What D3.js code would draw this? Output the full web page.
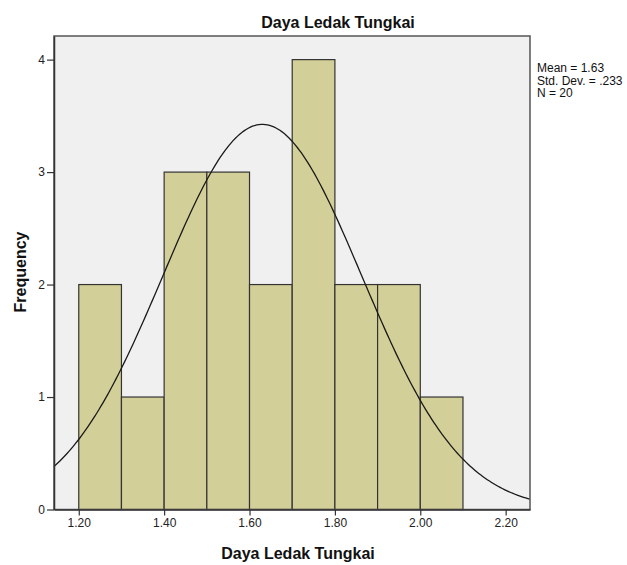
<!DOCTYPE html>
<html>
<head>
<meta charset="utf-8">
<script src="https://cdn.jsdelivr.net/npm/d3@7"></script>
<style>
  body { margin: 0; background: #fff; }
  svg { font-family: "Liberation Sans", Arial, sans-serif; }
</style>
</head>
<body>
<div id="chart"></div>
<script>
// Histogram bins (lower edge, upper edge) and counts
const binStarts = [1.2, 1.3, 1.4, 1.5, 1.6, 1.7, 1.8, 1.9, 2.0];
const binWidth = 0.1;
const counts = [2, 1, 3, 3, 2, 4, 2, 2, 1];

// Summary stats shown in the legend
const meanVal = 1.63;
const sdVal = 0.233;
const nVal = 20;

const xTicks = [1.2, 1.4, 1.6, 1.8, 2.0, 2.2];
const yTicks = [0, 1, 2, 3, 4];

// Plot frame
const margin = {top: 36, right: 97, bottom: 55.5, left: 54};
const W = 627, H = 565;
const width = W - margin.left - margin.right;
const height = H - margin.top - margin.bottom;

const colors = {
    bg: "#f0f0f0",
    bar: "#d3cf98",
    barStroke: "#333",
    frame: "#555",
    curve: "#1a1a1a"
};

const svg = d3.select("#chart")
    .append("svg")
    .attr("width", W)
    .attr("height", H);

const g = svg.append("g")
    .attr("transform", `translate(${margin.left},${margin.top})`);

const x = d3.scaleLinear()
    .domain([1.142, 2.257])
    .range([0, width]);

const y = d3.scaleLinear()
    .domain([0, 4.21])
    .range([height, 0]);

// Background
g.append("rect")
    .attr("width", width)
    .attr("height", height)
    .attr("fill", colors.bg);

g.append("clipPath")
    .attr("id", "clip")
    .append("rect")
    .attr("width", width)
    .attr("height", height);

// Bars
const bins = binStarts.map((s, i) => ({x0: s, x1: s + binWidth, n: counts[i]}));
g.selectAll(".bar")
    .data(bins)
    .enter()
    .append("rect")
    .attr("class", "bar")
    .attr("x", d => x(d.x0))
    .attr("y", d => y(d.n))
    .attr("width", d => x(d.x1) - x(d.x0))
    .attr("height", d => y(0) - y(d.n))
    .attr("fill", colors.bar)
    .attr("stroke", colors.barStroke)
    .attr("stroke-width", 1.2);

// Normal curve scaled to counts
const curveX = d3.range(1.142, 2.2575, 0.005);
const normal = v => nVal * binWidth / (sdVal * Math.sqrt(2 * Math.PI)) *
    Math.exp(-0.5 * Math.pow((v - meanVal) / sdVal, 2));

g.append("path")
    .datum(curveX)
    .attr("clip-path", "url(#clip)")
    .attr("fill", "none")
    .attr("stroke", colors.curve)
    .attr("stroke-width", 1.3)
    .attr("d", d3.line().x(d => x(d)).y(d => y(normal(d))));

// Frame
g.append("rect")
    .attr("width", width)
    .attr("height", height)
    .attr("fill", "none")
    .attr("stroke", colors.frame)
    .attr("stroke-width", 1.5);

// Axes
const xAxis = g.append("g")
    .attr("transform", `translate(0,${height})`)
    .call(d3.axisBottom(x).tickValues(xTicks).tickFormat(d3.format(".2f")).tickSize(6).tickSizeOuter(0).tickPadding(3));

const yAxis = g.append("g")
    .call(d3.axisLeft(y).tickValues(yTicks).tickFormat(d3.format("d")).tickSize(7).tickSizeOuter(0).tickPadding(2));

[xAxis, yAxis].forEach(a => {
    a.select(".domain").attr("stroke", "#333").attr("stroke-width", 1.5);
    a.selectAll(".tick line").attr("stroke", "#333").attr("stroke-width", 1.2);
    a.selectAll(".tick text")
        .attr("fill", "#222")
        .style("font-size", "12px")
        .style("font-family", "'Liberation Sans', Arial, sans-serif");
});

// Title
svg.append("text")
    .attr("x", 338)
    .attr("y", 27.5)
    .attr("text-anchor", "middle")
    .style("font-size", "16px")
    .style("font-weight", "bold")
    .attr("fill", "#111")
    .text("Daya Ledak Tungkai");

// Axis labels
svg.append("text")
    .attr("x", 298)
    .attr("y", 559)
    .attr("text-anchor", "middle")
    .style("font-size", "16px")
    .style("font-weight", "bold")
    .attr("fill", "#111")
    .text("Daya Ledak Tungkai");

svg.append("text")
    .attr("transform", "translate(26,272) rotate(-90)")
    .attr("text-anchor", "middle")
    .style("font-size", "16px")
    .style("font-weight", "bold")
    .attr("fill", "#111")
    .text("Frequency");

// Stats legend
const statLines = [
    `Mean = ${meanVal.toFixed(2)}`,
    `Std. Dev. = ${sdVal.toFixed(3).replace(/^0/, "")}`,
    `N = ${nVal}`
];
svg.append("g")
    .selectAll("text")
    .data(statLines)
    .enter()
    .append("text")
    .attr("x", 537)
    .attr("y", (d, i) => 72 + i * 12.5)
    .style("font-size", "12px")
    .attr("fill", "#111")
    .text(d => d);
</script>
</body>
</html>
